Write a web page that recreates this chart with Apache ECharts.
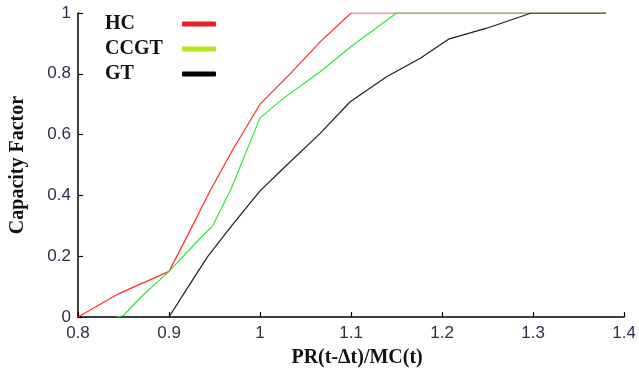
<!DOCTYPE html>
<html>
<head>
<meta charset="utf-8">
<script src="https://cdn.jsdelivr.net/npm/echarts@6/dist/echarts.min.js"></script>
<style>
html,body{margin:0;padding:0;background:#fff;}
#chart{width:639px;height:374px;}
</style>
</head>
<body>
<div id="chart"></div>
<script>
// ---- data ----
const seriesNames = ['HC', 'CCGT', 'GT'];

const hcX = [0.8, 0.845, 0.9, 0.92, 0.946, 0.97, 1.0, 1.033, 1.066, 1.1, 1.15, 1.38];
const hcY = [0, 0.077, 0.15, 0.266, 0.42, 0.55, 0.70, 0.80, 0.905, 1.0, 1.0, 1.0];

const ccgtX = [0.843, 0.85, 0.869, 0.9, 0.933, 0.948, 0.968, 1.0, 1.026, 1.066, 1.1, 1.15, 1.38];
const ccgtY = [0, 0.005, 0.065, 0.15, 0.255, 0.30, 0.42, 0.655, 0.72, 0.807, 0.89, 1.0, 1.0];

const gtX = [0.9, 0.92, 0.942, 0.97, 1.0, 1.026, 1.066, 1.099, 1.139, 1.176, 1.207, 1.249, 1.298, 1.38];
const gtY = [0, 0.094, 0.197, 0.305, 0.415, 0.49, 0.604, 0.708, 0.79, 0.851, 0.914, 0.95, 1.0, 1.0];

const xTickLabels = ['0.8', '0.9', '1', '1.1', '1.2', '1.3', '1.4'];
const yTickLabels = ['0', '0.2', '0.4', '0.6', '0.8', '1'];

const xTitle = 'PR(t-\u0394t)/MC(t)';
const yTitle = 'Capacity Factor';

// ---- build ----
function pairs(xs, ys) { return xs.map((x, i) => [x, ys[i]]); }

const lineColors = ['#ff2a2a', '#2ee82e', '#1e1e1e'];
const legendColors = ['#ed1c24', '#b5e61d', '#000000'];
const seriesData = [pairs(hcX, hcY), pairs(ccgtX, ccgtY), pairs(gtX, gtY)];

const tickFont = { fontFamily: 'Liberation Sans', fontSize: 17, color: '#2e2e4a' };
const titleFont = { fontFamily: 'Liberation Serif', fontWeight: 'bold', fontSize: 20, color: '#111' };

const chart = echarts.init(document.getElementById('chart'), null, { renderer: 'canvas' });
chart.setOption({
  animation: false,
  backgroundColor: '#ffffff',
  grid: { left: 77, right: 14, top: 13, bottom: 57, containLabel: false },
  legend: {
    orient: 'vertical',
    left: 100,
    top: 9,
    align: 'right',
    icon: 'roundRect',
    itemWidth: 34,
    itemHeight: 5,
    itemGap: 5,
    selectedMode: false,
    formatter: '{a|{name}}',
    textStyle: {
      rich: {
        a: { fontFamily: 'Liberation Serif', fontWeight: 'bold', fontSize: 20, color: '#111', width: 72, align: 'left', lineHeight: 21 }
      }
    },
    data: seriesNames.map((n, i) => ({ name: n, itemStyle: { color: legendColors[i] } }))
  },
  xAxis: {
    type: 'value',
    min: 0.8,
    max: 1.4,
    interval: 0.1,
    name: xTitle,
    nameLocation: 'middle',
    nameGap: 31,
    nameTextStyle: Object.assign({ padding: [0, 0, 0, 12] }, titleFont),
    axisLine: { show: true, onZero: false, lineStyle: { color: '#000', width: 1.5 } },
    axisTick: { show: true, inside: true, length: 5, lineStyle: { color: '#000', width: 1.2 } },
    splitLine: { show: false },
    axisLabel: Object.assign({
      margin: 8,
      formatter: v => xTickLabels[Math.round((v - 0.8) * 10)]
    }, tickFont)
  },
  yAxis: {
    type: 'value',
    min: 0,
    max: 1,
    interval: 0.2,
    name: yTitle,
    nameLocation: 'middle',
    nameRotate: 90,
    nameGap: 50,
    nameTextStyle: titleFont,
    axisLine: { show: true, onZero: false, lineStyle: { color: '#000', width: 1.5 } },
    axisTick: { show: true, inside: true, length: 5, lineStyle: { color: '#000', width: 1.2 } },
    splitLine: { show: false },
    axisLabel: Object.assign({
      margin: 7,
      formatter: v => yTickLabels[Math.round(v * 5)]
    }, tickFont)
  },
  series: seriesNames.map((n, i) => ({
    name: n,
    type: 'line',
    data: seriesData[i],
    showSymbol: false,
    symbol: 'none',
    color: lineColors[i],
    lineStyle: { color: lineColors[i], width: 1.2 },
    z: 2 + i
  }))
});
</script>
</body>
</html>
